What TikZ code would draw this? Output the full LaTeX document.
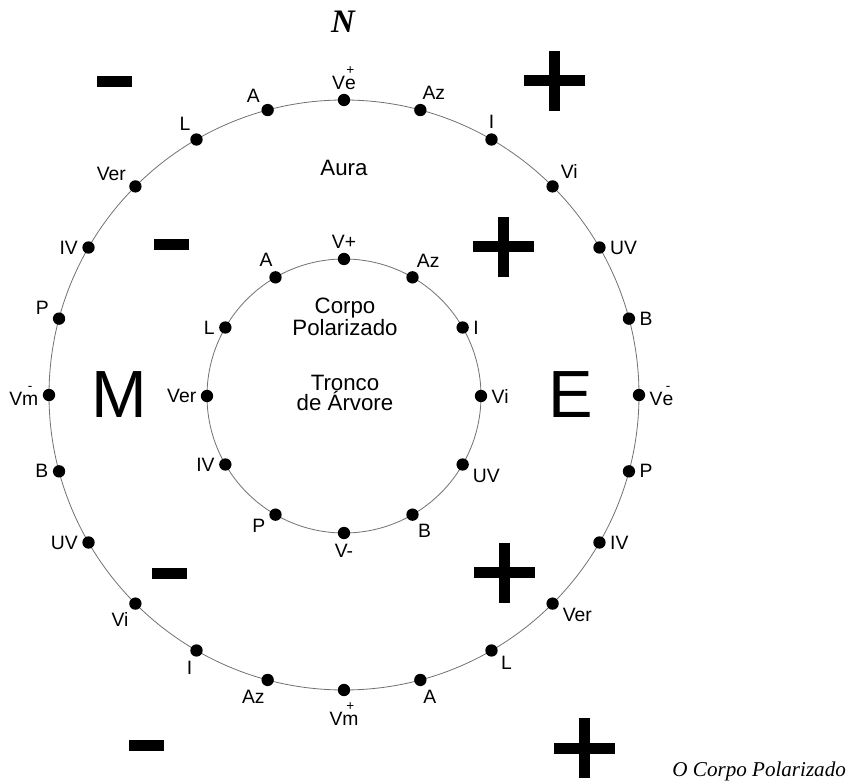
\documentclass[tikz,border=0pt]{standalone}
\usepackage{amsmath}
\usepackage{fontspec}
\setmainfont{Liberation Sans}
\newfontfamily\serifit{Liberation Serif}
\usepackage{tikz}
\newcommand{\ovr}[2]{\ensuremath{\overset{\text{#2}}{\text{#1}}}}

\begin{document}
\begin{tikzpicture}[
    x=0.3mm, y=0.3mm,
    ring/.style={draw=black!55, line width=0.7pt},
    point/.style={circle, fill=black, inner sep=0pt, minimum size=3.7mm},
    lbl/.style={font=\fontsize{16.5}{18}\selectfont, inner sep=1pt},
    every label/.style={lbl, label distance=2.5pt},
    txt/.style={font=\fontsize{19}{17}\selectfont, align=center},
    big/.style={font=\fontsize{57}{57}\selectfont},
    plussign/.pic={\fill (-30.5,-5.5) rectangle (30.5,5.5); \fill (-5.5,-30) rectangle (5.5,30);},
    minussign/.pic={\fill (-17.5,-5.5) rectangle (17.5,5.5);},
]
\useasboundingbox (-344,-387) rectangle (509,395);

% Circles
\draw[ring] (0,0) circle (295);
\draw[ring] (0,-1) circle (137);

% Outer ring (Aura)
\node[point, label={90:V\ovr{e}{+}}] (ove) at (90:295) {};
\node[point, label={85:Az}] (oaz) at (75:295) {};
\node[point, label={90:I}] (oi) at (60:295) {};
\node[point, label={43:Vi}] (ovi) at (45:295) {};
\node[point, label={0:UV}] (ouv) at (30:295) {};
\node[point, label={0:B}] (ob) at (15:295) {};
\node[point, label={0:V\ovr{e}{-}}] (ove2) at (0:295) {};
\node[point, label={0:P}] (op) at (-15:295) {};
\node[point, label={0:IV}] (oiv) at (-30:295) {};
\node[point, label={-18:Ver}] (over) at (-45:295) {};
\node[point, label={-29:L}] (ol) at (-60:295) {};
\node[point, label={-80:A}] (oa) at (-75:295) {};
\node[point, label={-90:V\ovr{m}{+}}] (ovm) at (-90:295) {};
\node[point, label={-100:Az}] (oaz2) at (-105:295) {};
\node[point, label={-108:I}] (oi2) at (-120:295) {};
\node[point, label={-126:Vi}] (ovi2) at (-135:295) {};
\node[point, label={180:UV}] (ouv2) at (-150:295) {};
\node[point, label={180:B}] (ob2) at (-165:295) {};
\node[point, label={180:V\ovr{m}{-}}] (ovm2) at (180:295) {};
\node[point, label={162:P}] (op2) at (165:295) {};
\node[point, label={180:IV}] (oiv2) at (150:295) {};
\node[point, label={150:Ver}] (over2) at (135:295) {};
\node[point, label={120:L}] (ol2) at (120:295) {};
\node[point, label={135:A}] (oa2) at (105:295) {};

% Inner ring (Corpo Polarizado)
\begin{scope}[shift={(0,-1)}]
\node[point, label={90:V+}] (ivp) at (90:137) {};
\node[point, label={71:Az}] (iaz) at (60:137) {};
\node[point, label={0:I}] (ii) at (30:137) {};
\node[point, label={0:Vi}] (ivi) at (0:137) {};
\node[point, label={-19:UV}] (iuv) at (-30:137) {};
\node[point, label={-63:B}] (ib) at (-60:137) {};
\node[point, label={-90:V-}] (ivm) at (-90:137) {};
\node[point, label={-161:P}] (ip) at (-120:137) {};
\node[point, label={180:IV}] (iiv) at (-150:137) {};
\node[point, label={180:Ver}] (iver) at (180:137) {};
\node[point, label={180:L}] (il) at (150:137) {};
\node[point, label={99:A}] (ia) at (120:137) {};
\end{scope}

% Texts
\node[txt] (aura) at (0,227) {Aura};
\node[txt] (corpo) at (1,78) {Corpo\\Polarizado};
\node[txt] (tronco) at (1,2) {Tronco\\de Árvore};
\node[big] (mm) at (-225,0) {M};
\node[big] (ee) at (227,0) {E};
\node[font=\serifit\bfseries\itshape\fontsize{28}{28}\selectfont] (north) at (-1,373) {N};
\node[font=\serifit\itshape\fontsize{18}{20}\selectfont, anchor=east] (caption) at (506,-376) {O Corpo Polarizado};

% Signs
\pic at (-229.5,313) {minussign};
\pic at (210,314) {plussign};
\pic at (-172,150) {minussign};
\pic at (159,148) {plussign};
\pic at (-174.5,-179) {minussign};
\pic at (160,-178) {plussign};
\pic at (-197,-350) {minussign};
\pic at (240,-353) {plussign};

\end{tikzpicture}
\end{document}
